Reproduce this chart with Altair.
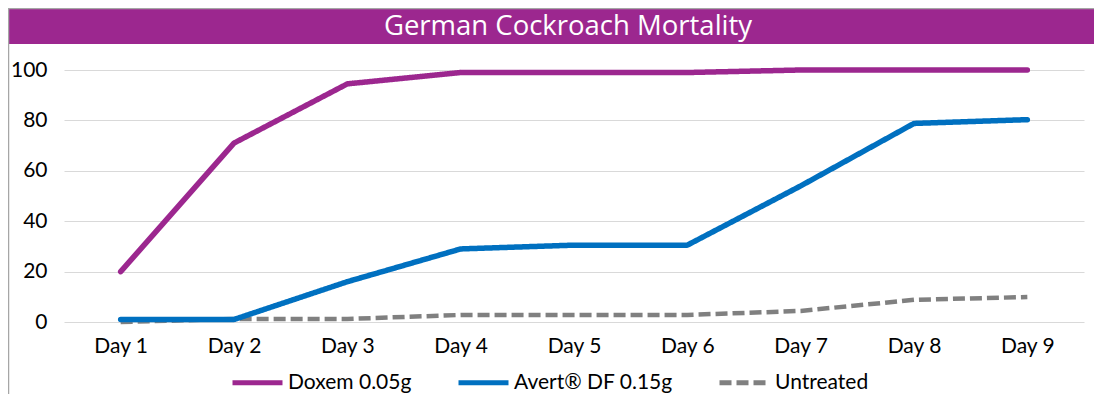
import altair as alt
import pandas as pd

days = ["Day 1", "Day 2", "Day 3", "Day 4", "Day 5", "Day 6", "Day 7", "Day 8", "Day 9"]
series_names = ["Doxem 0.05g", "Avert® DF 0.15g", "Untreated"]
doxem = [20, 71, 94.5, 99, 99, 99, 100, 100, 100]
avert = [1, 1, 16, 29, 30.5, 30.5, 54, 78.8, 80.3]
untreated = [0, 1.2, 1.2, 2.8, 2.8, 2.8, 4.4, 8.8, 9.9]
y_ticks = [0, 20, 40, 60, 80, 100]
title_text = "German Cockroach Mortality"
colors = ["#9C278F", "#0070C0", "#808080"]

rows = []
for name, vals in zip(series_names, [doxem, avert, untreated]):
    for d, v in zip(days, vals):
        rows.append({"Day": d, "Series": name, "Value": v})
df = pd.DataFrame(rows)

W, H = 1020, 252
FONT = "Lato"

legend_cfg = dict(
    title=None, orient="none", legendX=166, legendY=285, direction="horizontal",
    symbolType="stroke", symbolSize=2500, symbolStrokeWidth=5,
    labelFont=FONT, labelFontSize=21, labelColor="#000000", labelOffset=3,
    columnPadding=36, symbolOffset=0, labelLimit=300,
)

enc = dict(
    x=alt.X("Day:N", sort=days, scale=alt.Scale(type="point", padding=0.5),
            axis=alt.Axis(title=None, labelFont=FONT, labelFontSize=21, labelColor="#000000",
                          labelAngle=0, ticks=False, domain=False, grid=False, labelPadding=13)),
    y=alt.Y("Value:Q", scale=alt.Scale(domain=[0, 100], nice=False),
            axis=alt.Axis(title=None, values=y_ticks, labelFont=FONT, labelFontSize=21,
                          labelColor="#000000", ticks=False, domain=False, grid=True,
                          gridColor="#D9D9D9", gridWidth=1.2, labelPadding=17)),
    color=alt.Color("Series:N", sort=series_names,
                    scale=alt.Scale(domain=series_names, range=colors),
                    legend=alt.Legend(**legend_cfg)),
    strokeDash=alt.StrokeDash("Series:N", sort=series_names,
                              scale=alt.Scale(domain=series_names, range=[[1, 0], [1, 0], [12, 5]]),
                              legend=alt.Legend(**legend_cfg)),
    detail="Series:N",
)

solid = alt.Chart(df).transform_filter(
    alt.datum.Series != series_names[2]
).mark_line(strokeCap="round", strokeJoin="round", strokeWidth=5.5).encode(**enc)
dashed = alt.Chart(df).transform_filter(
    alt.datum.Series == series_names[2]
).mark_line(strokeCap="butt", strokeJoin="round", strokeWidth=4.5).encode(**enc)

title_df = pd.DataFrame({"t": [title_text]})
banner = alt.Chart(title_df).mark_rect(color="#9C278F").encode(
    x=alt.value(-56), x2=alt.value(W + 10), y=alt.value(-61), y2=alt.value(-26)
)
border = alt.Chart(title_df).mark_rule(color="#A6A6A6", strokeWidth=1.5).encode(
    x=alt.value(-55.5), y=alt.value(-62), y2=alt.value(H + 72)
)
top_border = alt.Chart(title_df).mark_rule(color="#A6A6A6", strokeWidth=1.5).encode(
    x=alt.value(-56), x2=alt.value(W + 10), y=alt.value(-61.5)
)
title = alt.Chart(title_df).mark_text(
    font="Open Sans", fontSize=27.5, color="#FFFFFF", align="center", baseline="alphabetic"
).encode(text="t:N", x=alt.value(504), y=alt.value(-35))

chart = alt.layer(banner, border, top_border, title, dashed, solid).properties(
    width=W, height=H,
    autosize=alt.AutoSizeParams(type="none"),
    padding={"left": 56, "top": 62, "right": 10, "bottom": 72},
    background="#FFFFFF",
).configure_view(stroke=None)

chart.save("out.html", embed_options={"renderer": "svg", "actions": False})
